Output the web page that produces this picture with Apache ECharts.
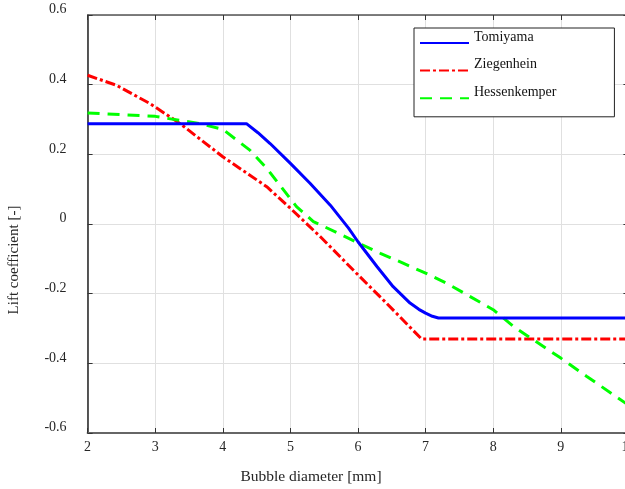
<!DOCTYPE html>
<html>
<head>
<meta charset="utf-8">
<script src="https://cdn.jsdelivr.net/npm/echarts@6/dist/echarts.min.js"></script>
<style>html,body{margin:0;padding:0;background:#fff;}#c{width:625px;height:489px;}</style>
</head>
<body>
<div id="c"></div>
<script>
const seriesNames = ['Tomiyama', 'Ziegenhein', 'Hessenkemper'];
const xTicks = [2, 3, 4, 5, 6, 7, 8, 9, 10];
const yTicks = [-0.6, -0.4, -0.2, 0, 0.2, 0.4, 0.6];

const tomiyamaX = [2, 4.35, 4.52, 4.70, 5.0, 5.29, 5.59, 5.86, 6.0, 6.28, 6.52, 6.77, 6.9, 7.0, 7.1, 7.19, 10];
const tomiyamaY = [0.288, 0.288, 0.262, 0.231, 0.174, 0.117, 0.054, -0.012, -0.051, -0.122, -0.180, -0.227, -0.245, -0.256, -0.265, -0.270, -0.270];

const ziegenheinX = [2, 2.43, 2.92, 3.37, 4.0, 4.65, 5.0, 5.44, 6.0, 6.42, 6.94, 10];
const ziegenheinY = [0.427, 0.398, 0.346, 0.288, 0.193, 0.107, 0.045, -0.036, -0.146, -0.227, -0.330, -0.330];

const hessenkemperX = [2, 3, 3.66, 4.0, 4.4, 4.65, 4.87, 5.09, 5.34, 5.68, 6.0, 6.33, 6.65, 7.0, 7.31, 7.61, 8.0, 8.3, 8.59, 9.0, 9.38, 10];
const hessenkemperY = [0.319, 0.309, 0.288, 0.272, 0.212, 0.160, 0.105, 0.050, 0.007, -0.024, -0.054, -0.084, -0.111, -0.141, -0.170, -0.203, -0.246, -0.294, -0.332, -0.385, -0.437, -0.520];

const pairs = (xs, ys) => xs.map((x, i) => [x, ys[i]]);
const FONT = 'Liberation Serif';

const chart = echarts.init(document.getElementById('c'), null, {renderer: 'canvas'});
const axisCommon = {
  type: 'value',
  axisTick: {show: true, inside: true, length: 5, lineStyle: {color: '#333', width: 1}},
  splitLine: {show: false},
  axisLabel: {show: false},
  axisLine: {show: true, onZero: false, lineStyle: {color: '#555', width: 1.5}}
};
chart.setOption({
  animation: false,
  backgroundColor: '#fff',
  grid: {left: 87.6, top: 15, width: 540.8, height: 418, containLabel: false, outerBoundsMode: 'none'},
  legend: {
    orient: 'vertical',
    left: 414, top: 28,
    padding: [2, 58, 13, 5],
    itemWidth: 49, itemHeight: 14, itemGap: 9,
    borderColor: '#222', borderWidth: 1,
    backgroundColor: '#fff',
    data: seriesNames,
    itemStyle: {opacity: 0},
    formatter: '{a|{name}}',
    textStyle: {fontFamily: FONT, fontSize: 14, color: '#111',
      rich: {a: {fontFamily: FONT, fontSize: 14, color: '#111', padding: [0, 0, 12, 0]}}}
  },
  xAxis: [
    Object.assign({}, axisCommon, {
      min: 2, max: 10, interval: 1, position: 'bottom',
      axisLine: {show: true, onZero: false, lineStyle: {color: '#666', width: 2}},
      splitLine: {show: true, lineStyle: {color: '#e0e0e0', width: 1}},
      axisLabel: {show: true, fontFamily: FONT, fontSize: 14, color: '#262626', margin: 7,
        formatter: v => xTicks.includes(v) ? String(v) : ''},
      name: 'Bubble diameter [mm]', nameLocation: 'middle', nameGap: 36,
      nameTextStyle: {fontFamily: FONT, fontSize: 15.5, color: '#262626', padding: [0, 94, 0, 0]}
    }),
    Object.assign({}, axisCommon, {min: 2, max: 10, interval: 1, position: 'top'})
  ],
  yAxis: [
    Object.assign({}, axisCommon, {
      min: -0.6, max: 0.6, interval: 0.2, position: 'left',
      axisLine: {show: true, onZero: false, lineStyle: {color: '#222', width: 1.5}},
      splitLine: {show: true, lineStyle: {color: '#e0e0e0', width: 1}},
      axisLabel: {show: true, fontFamily: FONT, fontSize: 14, color: '#262626', margin: 21,
        verticalAlign: 'bottom', lineHeight: 11,
        formatter: v => {
          const r = Math.round(v * 10) / 10;
          const t = yTicks.find(y => Math.abs(y - r) < 1e-9);
          return t === undefined ? '' : String(t);
        }},
      name: 'Lift coefficient [-]', nameLocation: 'middle', nameGap: 66,
      nameTextStyle: {fontFamily: FONT, fontSize: 15, color: '#262626', padding: [0, 72, 0, 0]}
    }),
    Object.assign({}, axisCommon, {min: -0.6, max: 0.6, interval: 0.2, position: 'right'})
  ],
  series: [
    {name: seriesNames[0], type: 'line', symbol: 'none', smooth: false,
     data: pairs(tomiyamaX, tomiyamaY), z: 3,
     lineStyle: {color: '#0000ff', width: 3, type: 'solid'}, itemStyle: {color: '#0000ff'}},
    {name: seriesNames[1], type: 'line', symbol: 'none', smooth: false,
     data: pairs(ziegenheinX, ziegenheinY), z: 2,
     lineStyle: {color: '#ff0000', width: 3, type: [10, 3, 3, 3]}, itemStyle: {color: '#ff0000'}},
    {name: seriesNames[2], type: 'line', symbol: 'none', smooth: false,
     data: pairs(hessenkemperX, hessenkemperY), z: 2,
     lineStyle: {color: '#00ff00', width: 3, type: [12, 8]}, itemStyle: {color: '#00ff00'}}
  ]
});
</script>
</body>
</html>
